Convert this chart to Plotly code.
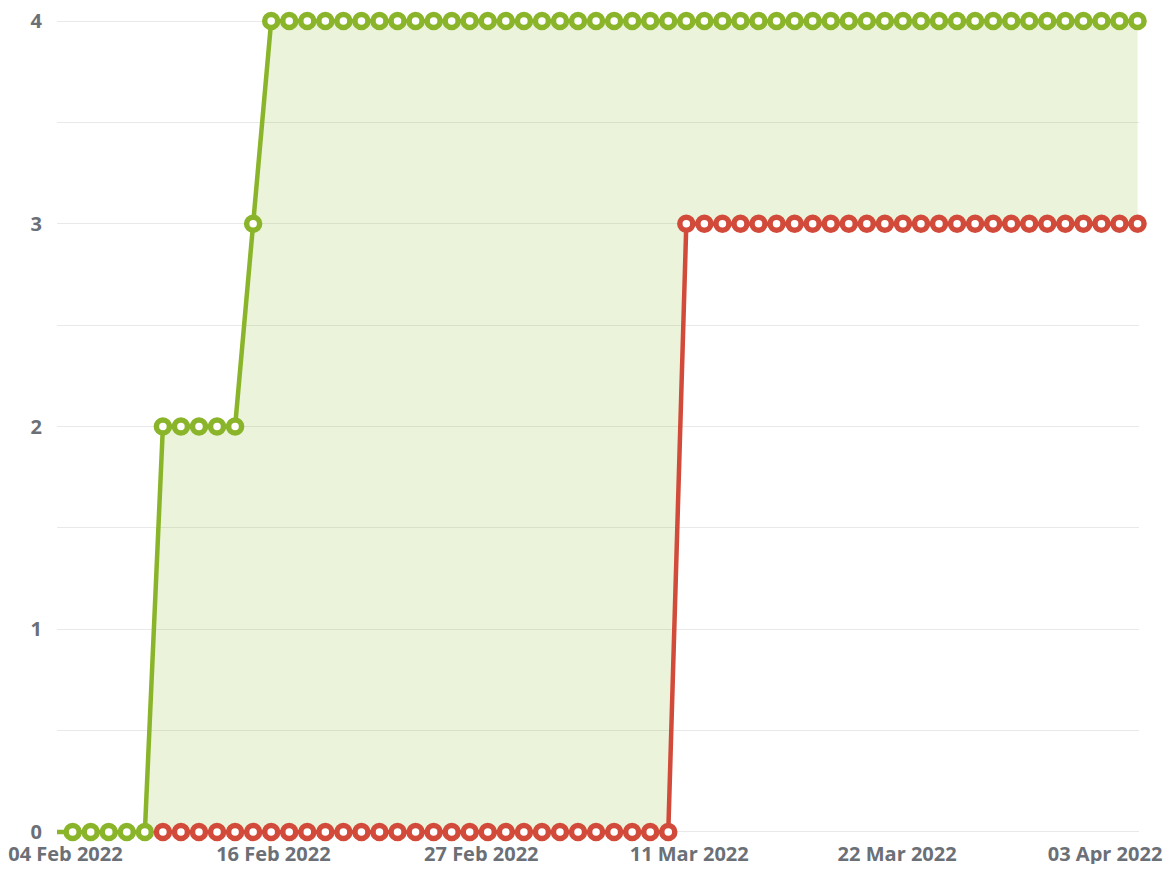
import pandas as pd
import plotly.graph_objects as go

# ---- data ----
dates = pd.date_range("2022-02-04", "2022-04-05", freq="D")  # 61 daily points

green_values = [0, 0, 0, 0, 0, 0,
                2, 2, 2, 2, 2,
                3,
                4, 4, 4, 4, 4, 4, 4, 4, 4, 4, 4, 4, 4, 4, 4, 4, 4, 4, 4, 4,
                4, 4, 4, 4, 4, 4, 4, 4, 4, 4, 4, 4, 4, 4, 4, 4, 4, 4, 4, 4,
                4, 4, 4, 4, 4, 4, 4, 4, 4]

red_values = [None, None, None, None, None, None,
              0, 0, 0, 0, 0, 0, 0, 0, 0, 0, 0, 0, 0, 0, 0, 0, 0, 0, 0, 0,
              0, 0, 0, 0, 0, 0, 0, 0, 0,
              3, 3, 3, 3, 3, 3, 3, 3, 3, 3, 3, 3, 3, 3, 3, 3, 3, 3, 3, 3,
              3, 3, 3, 3, 3, 3]

x_tick_labels = ["04 Feb 2022", "16 Feb 2022", "27 Feb 2022",
                 "11 Mar 2022", "22 Mar 2022", "03 Apr 2022"]
y_tick_values = [0, 1, 2, 3, 4]

# ---- styling ----
GREEN = "#8AB52A"
RED = "#D24A3A"
FILL = "rgba(141,181,43,0.17)"
GRID = "#E9E9E9"
LABEL = "#6b6f76"
FONT = "Open Sans"
MSIZE = 13
MLINE = 5.5

start = dates[0]


def day(v):
    return start + pd.Timedelta(days=v)


# evenly spaced tick positions across the axis (layout, not data)
tick_positions = [day(0.6 + k * 11.52) for k in range(len(x_tick_labels))]

baseline = [0 if v is None else v for v in red_values]

fig = go.Figure()

# invisible baseline for the band fill
fig.add_trace(go.Scatter(x=dates, y=baseline, mode="lines",
                         line=dict(width=0, color=RED), hoverinfo="skip",
                         showlegend=False))
# band between the two series
fig.add_trace(go.Scatter(x=dates, y=green_values, mode="lines",
                         line=dict(width=0, color=GREEN), fill="tonexty",
                         fillcolor=FILL, hoverinfo="skip", showlegend=False))

green_sizes = [0] + [MSIZE] * (len(green_values) - 1)
fig.add_trace(go.Scatter(x=dates, y=green_values, mode="lines+markers",
                         line=dict(color=GREEN, width=4.5),
                         marker=dict(size=green_sizes, color="white", opacity=1,
                                     line=dict(color=GREEN, width=MLINE)),
                         cliponaxis=False, showlegend=False))
fig.add_trace(go.Scatter(x=dates, y=red_values, mode="lines+markers",
                         line=dict(color=RED, width=4.5),
                         marker=dict(size=MSIZE, color="white", opacity=1,
                                     line=dict(color=RED, width=MLINE)),
                         cliponaxis=False, showlegend=False))

# page has an 8px body margin: figure is 1160x856 placed at (8, 8)
fig.update_layout(
    width=1160, height=856,
    margin=dict(l=49, r=29, t=7, b=26),
    paper_bgcolor="white", plot_bgcolor="white",
    showlegend=False,
    xaxis=dict(
        range=[day(0.133), day(60.08)],
        tickmode="array", tickvals=tick_positions, ticktext=x_tick_labels,
        showgrid=False, zeroline=False, showline=False, ticks="",
        tickfont=dict(family=FONT, size=20, color=LABEL, weight="bold"),
        ticklabelstandoff=2, automargin=False, ticklabeloverflow="allow",
    ),
    yaxis=dict(
        range=[-0.03, 4.03],
        tickmode="array", tickvals=y_tick_values,
        ticktext=[str(v) for v in y_tick_values],
        showgrid=True, gridcolor=GRID, gridwidth=1,
        minor=dict(dtick=0.5, tick0=0, showgrid=True, gridcolor=GRID, gridwidth=1),
        zeroline=False, showline=False, ticks="",
        tickfont=dict(family=FONT, size=20, color=LABEL, weight="bold"),
        ticklabelstandoff=14, automargin=False, ticklabeloverflow="allow",
    ),
)

fig.write_html("out.html")
